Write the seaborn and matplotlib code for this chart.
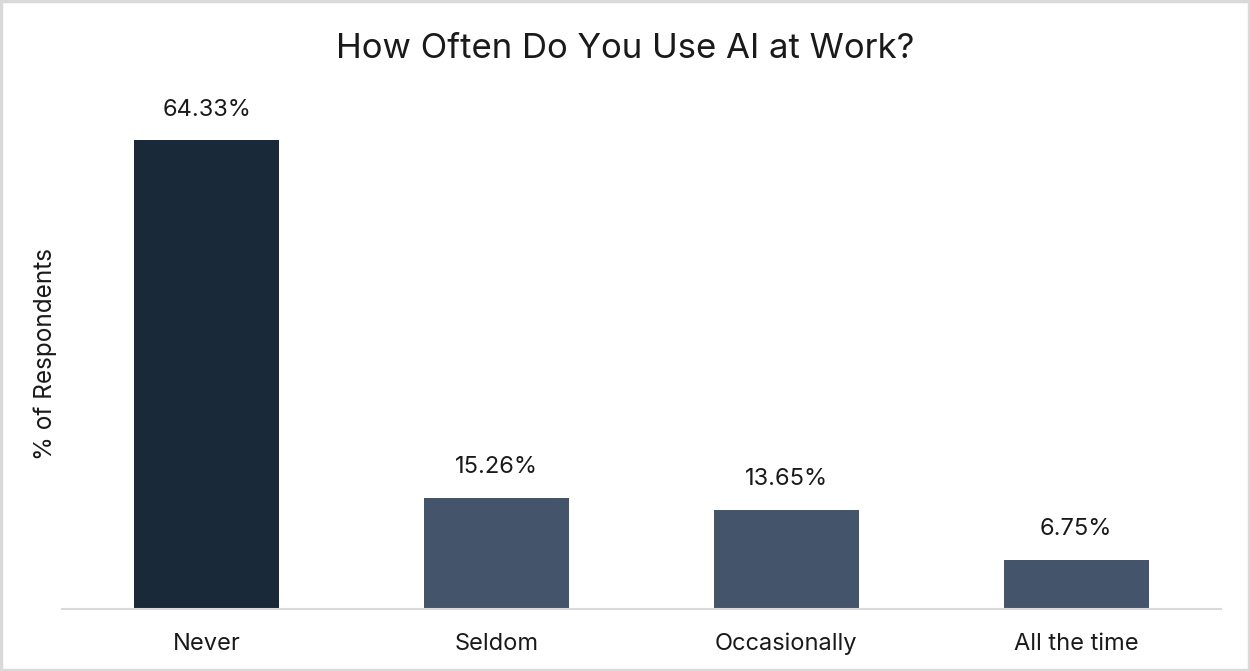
import matplotlib
matplotlib.use("Agg")
import matplotlib.pyplot as plt
import seaborn as sns
import pandas as pd
from matplotlib.patches import Rectangle

# Survey responses
categories = ["Never", "Seldom", "Occasionally", "All the time"]
shares = [64.33, 15.26, 13.65, 6.75]
bar_colors = ["#19293a", "#44546a", "#44546a", "#44546a"]

df = pd.DataFrame({"answer": categories, "share": shares})

sns.set_theme(style="white")
plt.rcParams["font.family"] = ["Inter", "DejaVu Sans"]

fig = plt.figure(figsize=(12.5, 6.71), dpi=100)
ax = fig.add_axes([0.0496, 0.0924, 0.9272, 0.760])

sns.barplot(data=df, x="answer", y="share", hue="answer",
            palette=bar_colors, width=0.5, legend=False, ax=ax,
            saturation=1, edgecolor="none")

ax.set_ylim(0, 70)
ax.set_xlim(-0.5, 3.5)
ax.set_yticks([])
ax.set_xlabel("")
ax.set_ylabel("% of Respondents", fontsize=17.5, color="#1a1a1a")
ax.yaxis.set_label_coords(-0.0045, 0.5)
ax.tick_params(axis="x", labelsize=17, labelcolor="#1a1a1a", pad=17, length=0)

for side in ["top", "right", "left"]:
    ax.spines[side].set_visible(False)
ax.spines["bottom"].set_color("#d9d9d9")
ax.spines["bottom"].set_linewidth(1.5)

for container in ax.containers:
    ax.bar_label(container, labels=[f"{v:.2f}%" for v in container.datavalues],
                 padding=14, fontsize=17, color="#1a1a1a")

fig.text(0.5, 0.927, "How Often Do You Use AI at Work?", ha="center", va="center",
         fontsize=25, color="#1a1a1a")

# light frame around the whole figure
fig.patches.append(Rectangle((0.001, 0.0015), 0.998, 0.997, transform=fig.transFigure,
                             fill=False, edgecolor="#d9d9d9", linewidth=2.5))

fig.savefig("out.png", dpi=100, facecolor="white")
